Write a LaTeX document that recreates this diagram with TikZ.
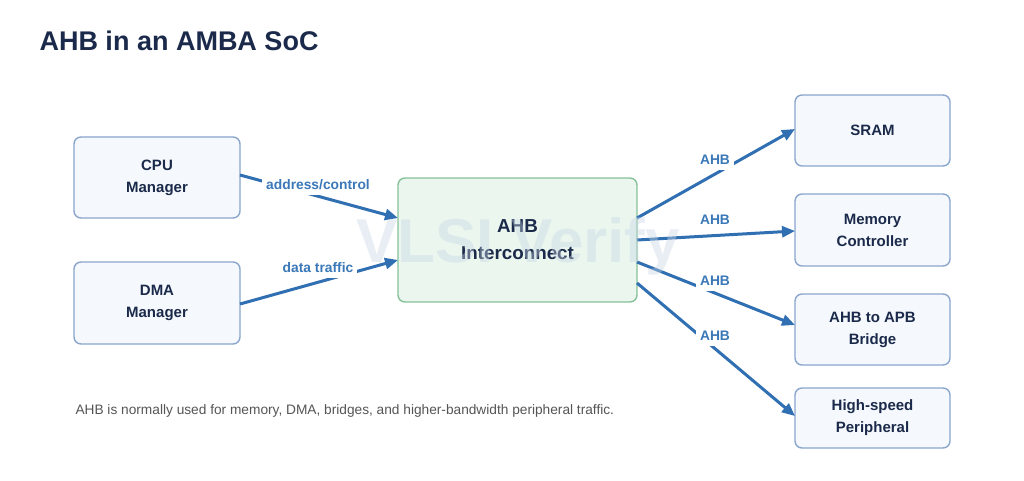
\documentclass[tikz,border=0pt]{standalone}
\usepackage{fontspec}
\setmainfont{Liberation Sans}
\usetikzlibrary{arrows.meta}
\definecolor{navy}{HTML}{1B2A4A}
\definecolor{boxline}{HTML}{8AA6CC}
\definecolor{boxfill}{HTML}{F5F9FD}
\definecolor{greenline}{HTML}{86C298}
\definecolor{greenfill}{HTML}{EAF6EE}
\definecolor{arrowblue}{HTML}{2F6FB2}
\definecolor{labelblue}{HTML}{3A78B8}
\definecolor{notegray}{HTML}{555555}
\definecolor{wmark}{HTML}{C9D6E6}
\tikzset{
  compbox/.style={draw=boxline, fill=boxfill, line width=1.4pt, rounded corners=7pt,
    align=center, text=navy, font=\fontsize{15}{22}\selectfont\bfseries, inner sep=0pt},
  hubbox/.style={draw=greenline, fill=greenfill, line width=1.4pt, rounded corners=7pt,
    align=center, text=navy, font=\fontsize{18.8}{27}\selectfont\bfseries, inner sep=0pt},
  link/.style={draw=arrowblue, line width=3pt, -{Triangle[length=13pt,width=11pt]}},
  lbl/.style={fill=white, text=labelblue, font=\fontsize{13.8}{16}\selectfont\bfseries, inner xsep=4pt, inner ysep=5pt},
}
\begin{document}
\begin{tikzpicture}[x=1pt,y=-1pt]
\useasboundingbox (0,0) rectangle (1024,481);
\fill[white] (0,0) rectangle (1024,481);
\node[anchor=west, text=navy, font=\fontsize{27}{31}\selectfont\bfseries] (title) at (36,41) {AHB in an AMBA SoC};

\node[compbox, minimum width=166pt, minimum height=81pt] (cpu) at (157,177.5) {CPU\\Manager};
\node[compbox, minimum width=166pt, minimum height=82pt] (dma) at (157,303) {DMA\\Manager};
\node[hubbox, minimum width=239pt, minimum height=124pt] (hub) at (517.5,240) {AHB\\Interconnect};
\node[compbox, minimum width=155pt, minimum height=71pt] (sram) at (872.5,130.5) {SRAM};
\node[compbox, minimum width=155pt, minimum height=72pt] (mc) at (872.5,230) {Memory\\Controller};
\node[compbox, minimum width=155pt, minimum height=71pt] (br) at (872.5,329.5) {AHB to APB\\Bridge};
\node[compbox, minimum width=155pt, minimum height=60pt] (hs) at (872.5,418) {High-speed\\Peripheral};

\coordinate (cpuo) at (240,175);
\coordinate (dmao) at (240,304);
\coordinate (hin1) at (398,218);
\coordinate (hin2) at (398,260);
\coordinate (ho1) at (637,218);
\coordinate (ho2) at (637,240);
\coordinate (ho3) at (637,262);
\coordinate (ho4) at (637,283);
\coordinate (sin) at (795,129);
\coordinate (min) at (795,231);
\coordinate (bin) at (795,325);
\coordinate (pin) at (795,416);

\draw[link] (cpuo) -- (hin1);
\draw[link] (dmao) -- (hin2);
\draw[link] (ho1) -- (sin);
\draw[link] (ho2) -- (min);
\draw[link] (ho3) -- (bin);
\draw[link] (ho4) -- (pin);

\node[lbl] (l1) at (318,185) {address/control};
\node[lbl] (l2) at (318,268) {data traffic};
\node[lbl] (l3) at (715,160) {AHB};
\node[lbl] (l4) at (715,220) {AHB};
\node[lbl] (l5) at (715,281) {AHB};
\node[lbl] (l6) at (715,336) {AHB};

\node[text=wmark, opacity=0.4, font=\fontsize{62}{62}\selectfont\bfseries] (wm) at (518,246) {VLSI Verify};

\node[anchor=west, text=notegray, font=\fontsize{13.7}{16}\selectfont] (note) at (72,411) {AHB is normally used for memory, DMA, bridges, and higher-bandwidth peripheral traffic.};
\end{tikzpicture}
\end{document}
